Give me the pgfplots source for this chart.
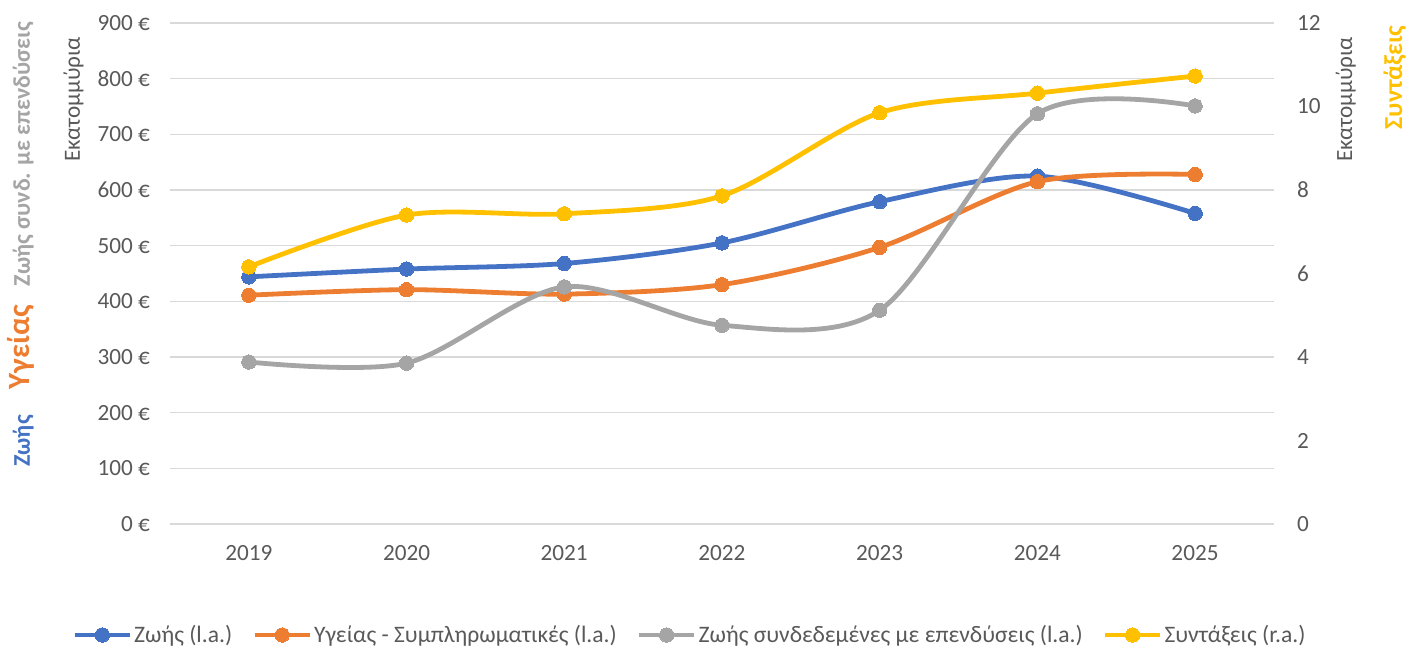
\documentclass[border=0pt]{standalone}
\usepackage{fontspec}
\setmainfont{Carlito}
\usepackage{pgfplots}
\pgfplotsset{compat=1.18}

\definecolor{cBlue}{HTML}{4472C4}
\definecolor{cOrange}{HTML}{ED7D31}
\definecolor{cGray}{HTML}{A5A5A5}
\definecolor{cYellow}{HTML}{FFC000}
\definecolor{cText}{HTML}{595959}
\definecolor{cGrid}{HTML}{D9D9D9}

\pgfplotsset{
  base/.style={
    scale only axis, width=552pt, height=250.5pt,
    xmin=2018.5, xmax=2025.5, ymin=0,
    axis line style={draw=none}, major tick length=0pt,
    tick label style={font=\fontsize{11.6}{13}\selectfont, text=cText},
    /pgf/number format/assume math mode=true,
  },
  ser/.style={color=#1, line width=2.4pt, smooth, tension=0.5,
    mark=*, mark size=3.6pt, mark options={fill=#1, draw=#1, line width=0pt}},
  every axis legend/.append style={
    font=\fontsize{11.8}{14}\selectfont, text=cText},
  legend image code/.code={
    \draw[mark repeat=2, mark phase=2, #1]
      plot coordinates {(0pt,0pt) (13.75pt,0pt) (27.5pt,0pt)};},
}

\begin{document}
\begin{tikzpicture}
\path[use as bounding box] (-85pt,-62pt) rectangle (619.5pt,262pt);

\begin{axis}[base,
  ymax=900, ytick={0,100,...,900},
  xtick={2019,...,2025},
  xticklabels={2019,2020,2021,2022,2023,2024,2025},
  xticklabel style={yshift=-7pt},
  yticklabel={\pgfmathprintnumber{\tick}~€},
  yticklabel style={xshift=-6.5pt},
  ymajorgrids, grid style={cGrid, line width=0.8pt},
]
\addplot[ser=cBlue] coordinates {
 (2019,444) (2020,458) (2021,468) (2022,505) (2023,579) (2024,625) (2025,558)};
\addplot[ser=cOrange] coordinates {
 (2019,411) (2020,421) (2021,413) (2022,430) (2023,497) (2024,615) (2025,628)};
\addplot[ser=cGray] coordinates {
 (2019,291) (2020,289) (2021,426) (2022,357) (2023,384) (2024,737) (2025,751)};
\end{axis}

\begin{axis}[base,
  ymax=12, ytick={0,2,...,12},
  xtick=\empty,
  axis y line*=right,
  yticklabel style={anchor=west, xshift=8pt},
  legend columns=4,
  legend style={draw=none, fill=none, at={(axis description cs:0.471,-0.2216)},
    anchor=center, nodes={inner sep=1pt},
    /tikz/every even column/.append style={column sep=9pt}},
]
\addlegendimage{ser=cBlue}\addlegendentry{Ζωής (l.a.)}
\addlegendimage{ser=cOrange}\addlegendentry{Υγείας - Συμπληρωματικές (l.a.)}
\addlegendimage{ser=cGray}\addlegendentry{Ζωής συνδεδεμένες με επενδύσεις (l.a.)}
\addplot[ser=cYellow] coordinates {
 (2019,6.16) (2020,7.40) (2021,7.43) (2022,7.86) (2023,9.85) (2024,10.32) (2025,10.73)};
\addlegendentry{Συντάξεις (r.a.)}
\end{axis}

\node[rotate=90, anchor=base east, text=cText, font=\fontsize{11.6}{13}\selectfont]
  at (-45pt,247pt) {Εκατομμύρια};
\node[rotate=90, anchor=base east, text=cText, font=\fontsize{11.6}{13}\selectfont]
  at (591pt,247pt) {Εκατομμύρια};
\node[rotate=90, anchor=base, text=cBlue, font=\bfseries\fontsize{12}{14}\selectfont]
  at (-70pt,41.5pt) {Ζωής};
\node[rotate=90, anchor=base, text=cOrange, font=\bfseries\fontsize{15.5}{18}\selectfont]
  at (-70pt,88.5pt) {Υγείας};
\node[rotate=90, anchor=base, text=cGray, font=\bfseries\fontsize{12}{14}\selectfont]
  at (-70pt,185pt) {Ζωής συνδ. με επενδύσεις};
\node[rotate=90, anchor=base, text=cYellow, font=\bfseries\fontsize{13}{15}\selectfont]
  at (616pt,223.25pt) {Συντάξεις};
\end{tikzpicture}
\end{document}
